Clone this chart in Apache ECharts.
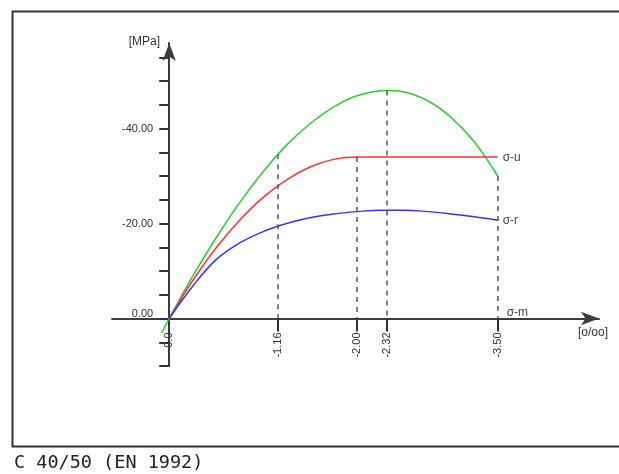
<!DOCTYPE html>
<html lang="en">
<head>
<meta charset="UTF-8">
<title>C 40/50 (EN 1992)</title>
<script src="https://cdn.jsdelivr.net/npm/echarts@6/dist/echarts.min.js"></script>
<style>
    * { padding: 0; margin: 0; }
    body { background: #fff; }
    #chart { width: 619px; height: 474px; }
</style>
</head>
<body>
<div id="chart"></div>
<script>
// strain in o/oo, stress in MPa, compression negative (plotted up/right)
var strainM = [0.08, 0, -0.25, -0.5, -0.75, -1.0, -1.25, -1.5, -1.75, -2.0, -2.32, -2.5, -2.75, -3.0, -3.25, -3.5];
var sigmaM  = [3.0, 0, -8.9, -17.0, -24.4, -30.9, -36.5, -41.0, -44.5, -46.9, -48.0, -47.7, -45.9, -42.4, -37.2, -30.0];

var strainU = [0, -0.25, -0.5, -0.75, -1.0, -1.25, -1.5, -1.75, -2.0, -2.5, -3.0, -3.5];
var sigmaU  = [0, -8.0, -14.9, -20.7, -25.5, -29.2, -31.9, -33.5, -34.0, -34.0, -34.0, -34.0];

var strainR = [0, -0.25, -0.5, -0.75, -1.0, -1.25, -1.5, -1.75, -2.0, -2.25, -2.5, -2.75, -3.0, -3.25, -3.5];
var sigmaR  = [0, -6.8, -12.4, -15.9, -18.3, -20.0, -21.2, -22.0, -22.5, -22.8, -22.8, -22.5, -22.0, -21.4, -20.7];

// dashed guides: strain and stress where the guide starts
var guideStrain = [-1.16, -2.00, -2.32, -3.50];
var guideTop    = [-34.6, -34.0, -48.0, -30.0];

var xTickVals = [0, -1.16, -2.00, -2.32, -3.50];
var yLabelVals = [-40, -20, 0];
var yTickVals = [-55, -50, -45, -40, -35, -30, -25, -20, -15, -10, -5, 0, 5, 10];

var curveNames = ['σ-u', 'σ-r', 'σ-m'];
var curveEnds = [[-3.5, -34.0], [-3.5, -20.7], [-3.5, 0]];

function pairs(xs, ys) {
    return xs.map(function (x, i) { return [x, ys[i]]; });
}

// grid geometry; axes are moved onto the zero lines with offsets
var gLeft = 112, gTop = 43, gWidth = 487, gHeight = 323;
var xMin = -4.58, xMax = 0.61, yMin = -58, yMax = 10;
var yAxisShift = -gWidth * xMax / (xMax - xMin);
var xAxisShift = -gHeight * yMax / (yMax - yMin);

var font = 'Liberation Sans, Arial, sans-serif';
var chart = echarts.init(document.getElementById('chart'), null, {renderer: 'canvas'});

var option = {
    animation: false,
    backgroundColor: '#fff',
    grid: {left: gLeft, top: gTop, width: gWidth, height: gHeight, outerBoundsMode: 'none'},
    xAxis: {
        type: 'value', min: xMin, max: xMax, inverse: true, offset: xAxisShift,
        axisLine: {onZero: false, lineStyle: {color: '#3c3c3c', width: 2},
            symbol: ['none', 'arrow'], symbolSize: [10, 18]},
        axisTick: {show: true, customValues: xTickVals, length: 13, lineStyle: {color: '#333', width: 2}},
        axisLabel: {customValues: xTickVals, rotate: 90, margin: 14, fontSize: 11, color: '#333', fontFamily: font,
            formatter: function (v) { return v === 0 ? '0.0' : v.toFixed(2); }},
        splitLine: {show: false}
    },
    yAxis: {
        type: 'value', min: yMin, max: yMax, inverse: true, offset: yAxisShift,
        axisLine: {onZero: false, lineStyle: {color: '#3c3c3c', width: 2},
            symbol: ['none', 'arrow'], symbolSize: [10, 18]},
        axisTick: {show: true, customValues: yTickVals, length: 10, lineStyle: {color: '#333', width: 2}},
        axisLabel: {customValues: yLabelVals, margin: 16, fontSize: 11, color: '#333', fontFamily: font,
            formatter: function (v) { return v === 0 ? '{z|0.00}' : v.toFixed(2); },
            rich: {z: {fontSize: 11, color: '#333', fontFamily: font, padding: [0, 0, 10, 0]}}},
        splitLine: {show: false}
    },
    series: [
        {
            type: 'line', data: pairs(strainM, sigmaM), smooth: 0.4, showSymbol: false,
            lineStyle: {color: '#2ecc2e', width: 1.5}, z: 3,
            markLine: {
                silent: true, symbol: 'none', label: {show: false},
                lineStyle: {color: '#555', type: [5, 5], width: 1.5},
                data: guideStrain.map(function (x, i) {
                    return [{coord: [x, guideTop[i]]}, {coord: [x, 0]}];
                })
            }
        },
        {
            type: 'line', data: pairs(strainU, sigmaU), smooth: 0.4, showSymbol: false,
            lineStyle: {color: '#ff3333', width: 1.5}, z: 3
        },
        {
            type: 'line', data: pairs(strainR, sigmaR), smooth: 0.4, showSymbol: false,
            lineStyle: {color: '#3333ff', width: 1.5}, z: 3
        },
        {
            type: 'scatter', symbolSize: 0, silent: true,
            data: curveNames.map(function (n, i) {
                return {
                    value: curveEnds[i], name: n,
                    label: {show: true, position: 'right', distance: i === 2 ? 9 : 5,
                        offset: i === 2 ? [0, -6] : [0, 1],
                        formatter: n, fontSize: 12, color: '#111', fontFamily: font}
                };
            })
        }
    ],
    graphic: [
        {type: 'rect', shape: {x: 12.5, y: 11.5, width: 700, height: 435},
            style: {fill: 'none', stroke: '#333', lineWidth: 2}},
        {type: 'text', x: 160, y: 42,
            style: {text: '[MPa]', font: '12px ' + font, fill: '#333', align: 'right', verticalAlign: 'middle'}},
        {type: 'text', x: 578, y: 333,
            style: {text: '[o/oo]', font: '12px ' + font, fill: '#333', align: 'left', verticalAlign: 'middle'}},
        {type: 'text', x: 14, y: 463.5,
            style: {text: 'C 40/50 (EN 1992)', font: '18.5px DejaVu Sans Mono, monospace', fill: '#222',
                align: 'left', verticalAlign: 'middle'}}
    ]
};
chart.setOption(option);
</script>
</body>
</html>
